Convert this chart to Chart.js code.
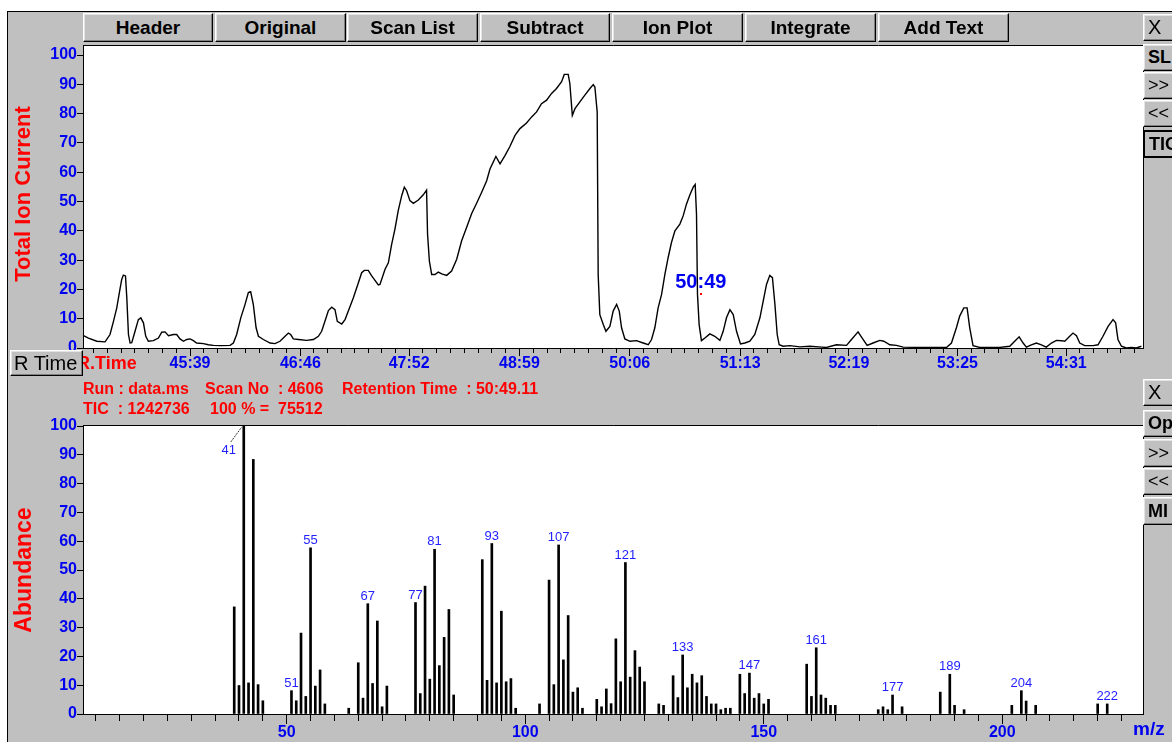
<!DOCTYPE html>
<html>
<head>
<meta charset="utf-8">
<script src="https://cdn.jsdelivr.net/npm/chart.js@4.4.0/dist/chart.umd.min.js"></script>
<style>
  html, body { margin: 0; padding: 0; width: 1172px; height: 742px; overflow: hidden; background: #fff;
    font-family: "Liberation Sans", Arial, sans-serif; }
  #frame { position: absolute; left: 7px; top: 11px; width: 1170px; height: 740px; background: #c0c0c0;
    border-left: 1px solid #000; border-top: 1px solid #000; }
  canvas { position: absolute; left: 0; z-index: 1; }
  .btn { position: absolute; box-sizing: border-box; background: #c0c0c0; border: 1px solid;
    border-color: #fff #000 #000 #fff; box-shadow: inset -1px -1px #808080, inset 1px 1px #e4e4e4;
    font-weight: bold; font-size: 19px; color: #000; text-align: center; white-space: nowrap; overflow: hidden; z-index: 3; }
  .side { width: 40px; text-align: left; padding-left: 4px; font-size: 18px; }
  .plain { font-weight: normal; }
  .sel { border: 2px solid #000; box-shadow: none; }
  .txt { position: absolute; white-space: pre; font-weight: bold; z-index: 2; }
  .red { color: #ff0000; }
  .blue { color: #0000f0; }
  .vert { text-align: center; transform: rotate(-90deg); }
</style>
</head>
<body>
<div id="frame"></div>

<canvas id="tic" width="1172" height="380" style="top:0"></canvas>
<canvas id="spec" width="1172" height="362" style="top:380px"></canvas>

<!-- toolbar -->
<div class="btn" style="left:83px;top:13px;width:130px;height:29px;line-height:27px">Header</div>
<div class="btn" style="left:215px;top:13px;width:131px;height:29px;line-height:27px">Original</div>
<div class="btn" style="left:347px;top:13px;width:131px;height:29px;line-height:27px">Scan List</div>
<div class="btn" style="left:480px;top:13px;width:130px;height:29px;line-height:27px">Subtract</div>
<div class="btn" style="left:612px;top:13px;width:131px;height:29px;line-height:27px">Ion Plot</div>
<div class="btn" style="left:745px;top:13px;width:131px;height:29px;line-height:27px">Integrate</div>
<div class="btn" style="left:878px;top:13px;width:131px;height:29px;line-height:27px">Add Text</div>

<!-- chromatogram side buttons -->
<div class="btn side plain" style="left:1143px;top:14px;height:27px;line-height:25px;font-size:20px">X</div>
<div class="btn side" style="left:1143px;top:44px;height:27px;line-height:25px">SL</div>
<div class="btn side plain" style="left:1143px;top:72px;height:27px;line-height:25px">&gt;&gt;</div>
<div class="btn side plain" style="left:1143px;top:100px;height:27px;line-height:25px">&lt;&lt;</div>
<div class="btn side sel" style="left:1143px;top:130px;height:28px;line-height:24px">TIC</div>

<!-- spectrum side buttons -->
<div class="btn side plain" style="left:1143px;top:379px;height:27px;line-height:25px;font-size:20px">X</div>
<div class="btn side" style="left:1143px;top:410px;height:27px;line-height:25px">Op</div>
<div class="btn side plain" style="left:1143px;top:439px;height:28px;line-height:26px">&gt;&gt;</div>
<div class="btn side plain" style="left:1143px;top:468px;height:27px;line-height:25px">&lt;&lt;</div>
<div class="btn side" style="left:1143px;top:497px;height:28px;line-height:26px">MI</div>

<!-- axis titles and run information -->
<div class="txt red vert" style="left:-77px;top:181px;width:200px;height:26px;line-height:26px;font-size:22px">Total Ion Current</div>
<div class="txt red vert" style="left:-77px;top:557px;width:200px;height:26px;line-height:26px;font-size:23px">Abundance</div>
<div class="txt red" style="left:77px;top:352px;height:22px;line-height:22px;font-size:18px">R.Time</div>
<div class="btn plain" style="left:10px;top:350px;width:73px;height:26px;line-height:24px;font-size:20px;text-align:left;padding-left:3px">R Time</div>

<div class="txt red" style="left:83px;top:379px;line-height:20px;font-size:16px">Run : data.ms</div>
<div class="txt red" style="left:205px;top:379px;line-height:20px;font-size:16px">Scan No  : 4606</div>
<div class="txt red" style="left:342px;top:379px;line-height:20px;font-size:16px" id="rtText"></div>
<div class="txt red" style="left:83px;top:399px;line-height:20px;font-size:16px">TIC  : 1242736</div>
<div class="txt red" style="left:210px;top:399px;line-height:20px;font-size:16px">100 % =  75512</div>
<div class="txt blue" style="left:1133px;top:717px;line-height:24px;font-size:19px">m/z</div>

<script>
// ---- total ion chromatogram: retention time (s) and relative intensity (%) ----
const TIC_TIME = [
  2674.3, 2677.3, 2682.4, 2687.4, 2690.4, 2692.5, 2694.5, 2695.9, 2697.5, 2698.5,
  2699.8, 2700.6, 2701.6, 2702.6, 2703.6, 2705.6, 2707.6, 2709.1, 2710.7, 2712.1,
  2713.7, 2716.7, 2719.8, 2721.8, 2723.8, 2725.9, 2728.9, 2730.9, 2732.9, 2735.0,
  2737.0, 2739.0, 2741.0, 2743.0, 2747.1, 2750.1, 2753.2, 2757.2, 2763.3, 2765.3,
  2767.3, 2769.8, 2772.4, 2774.4, 2775.8, 2777.4, 2779.1, 2780.5, 2783.5, 2787.6,
  2790.6, 2793.6, 2796.7, 2798.7, 2800.1, 2801.7, 2804.8, 2809.8, 2813.9, 2816.9,
  2818.9, 2820.9, 2823.0, 2825.0, 2827.0, 2828.4, 2831.1, 2833.1, 2835.1, 2838.1,
  2841.2, 2843.2, 2844.8, 2847.2, 2849.3, 2853.3, 2854.3, 2857.4, 2859.4, 2861.4,
  2863.4, 2865.4, 2867.5, 2869.1, 2870.5, 2872.5, 2874.6, 2877.6, 2880.6, 2882.6,
  2883.2, 2884.3, 2885.7, 2887.7, 2889.7, 2891.8, 2894.8, 2897.8, 2900.9, 2903.9,
  2906.9, 2910.0, 2913.0, 2916.0, 2919.1, 2921.1, 2924.7, 2927.2, 2930.2, 2933.2,
  2936.3, 2939.3, 2943.3, 2946.4, 2949.4, 2952.4, 2955.5, 2958.5, 2961.5, 2964.6,
  2966.2, 2968.6, 2969.6, 2971.1, 2972.7, 2975.7, 2978.7, 2981.8, 2983.8, 2984.8,
  2986.2, 2986.8, 2987.8, 2989.9, 2991.5, 2993.9, 2995.9, 2998.0, 2999.6, 3001.0,
  3003.0, 3006.1, 3010.1, 3014.1, 3017.2, 3019.2, 3021.2, 3023.2, 3025.3, 3027.3,
  3029.3, 3031.3, 3033.4, 3036.4, 3038.4, 3040.4, 3042.5, 3044.5, 3045.7, 3046.5,
  3047.1, 3048.1, 3049.5, 3051.6, 3054.6, 3057.6, 3060.7, 3062.7, 3064.7, 3066.8,
  3068.8, 3070.8, 3073.2, 3075.9, 3078.9, 3081.9, 3085.0, 3087.0, 3089.0, 3091.0,
  3092.6, 3094.1, 3095.5, 3096.7, 3099.1, 3103.2, 3109.2, 3115.3, 3122.4, 3125.4,
  3131.5, 3137.6, 3140.6, 3144.6, 3146.7, 3150.1, 3153.7, 3157.8, 3160.2, 3163.9,
  3167.9, 3172.0, 3182.1, 3198.3, 3201.3, 3204.3, 3206.3, 3208.8, 3210.8, 3212.4,
  3214.4, 3218.5, 3230.6, 3236.7, 3239.7, 3242.4, 3244.8, 3246.8, 3249.8, 3252.9,
  3255.9, 3258.9, 3262.0, 3265.0, 3268.0, 3270.1, 3273.1, 3275.1, 3277.2, 3279.2,
  3282.2, 3287.3, 3290.3, 3293.3, 3296.4, 3299.4, 3301.0, 3302.4, 3304.5, 3307.5,
  3310.5, 3313.6, 3316.6
];
const TIC_VALUE = [
  4.2, 3.4, 2.3, 2.1, 4.6, 9.1, 13.7, 18.3, 23.4, 24.9,
  24.6, 17.1, 4.6, 1.7, 1.8, 5.7, 9.7, 10.3, 8.6, 4.0,
  2.3, 2.5, 3.4, 5.4, 5.5, 4.2, 4.6, 4.6, 3.1, 2.3,
  2.9, 3.1, 2.5, 1.7, 1.5, 1.1, 0.9, 0.8, 0.9, 1.7,
  4.6, 10.3, 14.9, 18.9, 19.2, 14.9, 6.9, 4.0, 2.9, 1.7,
  1.5, 2.3, 4.0, 5.1, 4.6, 3.1, 2.9, 2.6, 2.9, 4.0,
  5.7, 9.1, 12.8, 13.9, 13.1, 9.1, 8.2, 9.7, 12.6, 17.1,
  22.3, 25.7, 26.5, 26.5, 24.6, 21.5, 21.7, 26.9, 29.1, 35.4,
  40.6, 46.9, 52.0, 54.9, 53.7, 50.3, 49.4, 50.5, 52.3, 53.9,
  38.9, 29.7, 25.1, 25.1, 25.9, 25.3, 24.8, 26.3, 30.3, 36.6,
  41.1, 45.9, 49.4, 53.1, 57.1, 61.1, 65.4, 62.9, 65.7, 68.8,
  72.6, 74.9, 76.8, 78.9, 80.6, 83.4, 84.6, 86.9, 88.6, 90.9,
  93.4, 93.4, 90.3, 79.4, 81.7, 84.0, 86.3, 88.6, 89.9, 89.1,
  80.6, 25.1, 11.4, 8.0, 5.7, 7.4, 12.6, 14.9, 12.6, 6.9,
  3.1, 2.3, 2.5, 1.7, 1.1, 2.9, 6.9, 13.7, 18.3, 25.1,
  30.9, 36.0, 40.0, 42.3, 45.1, 49.1, 52.3, 54.9, 55.8, 45.7,
  18.3, 8.0, 2.5, 3.4, 4.8, 4.0, 2.6, 5.7, 10.3, 13.1,
  11.4, 5.7, 1.4, 1.7, 2.3, 4.6, 10.3, 16.0, 21.7, 24.8,
  24.0, 15.0, 4.6, 1.1, 0.6, 0.8, 0.4, 0.6, 0.3, 0.2,
  1.1, 0.9, 2.9, 5.5, 3.7, 0.9, 1.7, 2.6, 2.3, 1.1,
  0.9, 0.3, 0.2, 0.2, 1.7, 6.9, 10.9, 13.7, 13.7, 6.9,
  0.8, 0.2, 0.2, 0.6, 2.3, 3.8, 1.7, 0.3, 1.1, 1.7,
  1.1, 0.3, 1.7, 2.6, 2.5, 2.3, 4.0, 5.1, 4.2, 1.7,
  0.8, 0.8, 1.1, 4.0, 7.4, 9.7, 8.6, 2.9, 0.6, 0.0,
  0.2, 0.0, 0.6
];
const RT_LABELS = ['45:39', '46:46', '47:52', '48:59', '50:06', '51:13', '52:19', '53:25', '54:31'];
const RT_RANGE = [2674.0, 3317.6];
const TIC_Y_TICKS = [0, 10, 20, 30, 40, 50, 60, 70, 80, 90, 100];

// selected scan
const CURSOR_RT = '50:49.11';
const CURSOR_VALUE = 18.3;

// ---- mass spectrum of the selected scan: m/z and relative abundance (%) ----
const MZ = [
  39, 40, 41, 42, 43, 44, 45, 51, 52, 53, 54, 55, 56, 57, 58, 63, 65, 66, 67, 68,
  69, 70, 71, 77, 78, 79, 80, 81, 82, 83, 84, 85, 91, 92, 93, 94, 95, 96, 97, 98,
  103, 105, 106, 107, 108, 109, 110, 111, 112, 115, 116, 117, 118, 119, 120, 121, 122, 123, 124, 125,
  128, 129, 131, 132, 133, 134, 135, 136, 137, 138, 139, 140, 141, 142, 143, 145, 146, 147, 148, 149,
  150, 151, 159, 160, 161, 162, 163, 164, 165, 174, 175, 176, 177, 179, 187, 189, 190, 192, 202, 204,
  205, 207, 220, 222
];
const ABUNDANCE = [
  37.2, 9.9, 100, 10.8, 88.4, 10.2, 4.6, 8.1, 4.6, 28.1, 6.1, 57.7, 9.7, 15.3, 3.5, 2.0, 17.8, 5.5, 38.3, 10.6,
  32.3, 2.5, 9.7, 38.7, 7.1, 44.4, 12.1, 57.2, 16.8, 26.6, 36.3, 6.6, 53.6, 11.7, 59.2, 10.8, 35.7, 11.2, 12.3, 2.0,
  3.5, 46.5, 10.2, 58.7, 18.8, 34.2, 7.6, 9.1, 2.0, 5.1, 2.5, 8.7, 3.6, 26.1, 11.2, 52.6, 12.8, 22.0, 16.3, 11.2,
  3.5, 3.0, 13.3, 5.7, 20.5, 9.1, 13.8, 10.8, 13.3, 6.1, 3.5, 3.5, 1.5, 2.0, 2.0, 13.8, 7.1, 14.2, 5.5, 7.1,
  3.5, 5.1, 17.3, 6.1, 23.0, 6.6, 5.5, 3.0, 3.0, 1.5, 2.5, 1.5, 6.6, 2.5, 7.6, 13.8, 3.0, 1.5, 3.0, 8.1,
  4.5, 3.0, 3.5, 3.5
];
const LABELED_MZ = [41, 51, 55, 67, 77, 81, 93, 107, 121, 133, 147, 161, 177, 189, 204, 222];
const MZ_RANGE = [7.3, 229.5];
const MZ_TICK_STEP = 5;
const MZ_LABEL_TICKS = [50, 100, 150, 200];
const ABUND_Y_TICKS = [0, 10, 20, 30, 40, 50, 60, 70, 80, 90, 100];

// ---------------------------------------------------------------------------
const FONT = '"Liberation Sans", Arial, sans-serif';
const BLUE = '#0000f0';
Chart.defaults.font.family = FONT;

document.getElementById('rtText').textContent = 'Retention Time  : ' + CURSOR_RT;

function toSeconds(s) {
  const [m, sec] = s.split(':').map(Number);
  return m * 60 + sec;
}
const cursorSeconds = toSeconds(CURSOR_RT);

// retention-time axis: labelled ticks with eight subdivisions between them
function buildRtTicks(min, max) {
  const major = RT_LABELS.map(l => ({ value: toSeconds(l), lbl: l }));
  const ticks = [];
  const step0 = (major[1].value - major[0].value) / 8;
  for (let v = major[0].value - step0; v >= min; v -= step0) ticks.unshift({ value: v });
  major.forEach((m, i) => {
    ticks.push(m);
    if (i < major.length - 1) {
      const st = (major[i + 1].value - m.value) / 8;
      for (let k = 1; k < 8; k++) ticks.push({ value: m.value + k * st });
    }
  });
  const stepN = (major[major.length - 1].value - major[major.length - 2].value) / 8;
  for (let v = major[major.length - 1].value + stepN; v <= max; v += stepN) ticks.push({ value: v });
  return ticks;
}

// white plot area with a black top and right edge
const plotFrame = {
  id: 'plotFrame',
  beforeDraw(chart) {
    const { ctx, chartArea: a } = chart;
    ctx.save();
    ctx.fillStyle = '#fff';
    ctx.fillRect(a.left, a.top, a.right - a.left, a.bottom - a.top);
    ctx.restore();
  },
  afterDraw(chart) {
    const { ctx, chartArea: a } = chart;
    ctx.save();
    ctx.strokeStyle = '#000';
    ctx.lineWidth = 1;
    ctx.beginPath();
    ctx.moveTo(a.left, a.top - 0.5);
    ctx.lineTo(a.right + 0.5, a.top - 0.5);
    ctx.lineTo(a.right + 0.5, a.bottom);
    ctx.stroke();
    ctx.restore();
  }
};

// retention time of the selected scan on the chromatogram
const cursorMark = {
  id: 'cursorMark',
  beforeDatasetsDraw(chart) {
    const { ctx, scales } = chart;
    const px = scales.x.getPixelForValue(cursorSeconds);
    const py = scales.y.getPixelForValue(CURSOR_VALUE);
    ctx.save();
    ctx.font = 'bold 20px ' + FONT;
    ctx.fillStyle = BLUE;
    ctx.textAlign = 'center';
    ctx.textBaseline = 'alphabetic';
    ctx.fillText(CURSOR_RT.slice(0, 5), px, py - 6);
    ctx.restore();
  },
  afterDatasetsDraw(chart) {
    const { ctx, scales } = chart;
    const px = scales.x.getPixelForValue(cursorSeconds);
    const py = scales.y.getPixelForValue(CURSOR_VALUE);
    ctx.save();
    ctx.fillStyle = '#ff0000';
    ctx.fillRect(Math.round(px) - 1, Math.round(py) - 1, 2, 2);
    ctx.restore();
  }
};

new Chart(document.getElementById('tic'), {
  type: 'line',
  data: {
    datasets: [{
      data: TIC_TIME.map((t, i) => ({ x: t, y: TIC_VALUE[i] })),
      borderColor: '#000',
      borderWidth: 1.4,
      pointRadius: 0,
      tension: 0,
      fill: false
    }]
  },
  options: {
    responsive: false,
    animation: false,
    devicePixelRatio: 1,
    layout: { padding: { top: 46, right: 29, left: 0, bottom: 0 } },
    plugins: { legend: { display: false }, tooltip: { enabled: false } },
    scales: {
      x: {
        type: 'linear',
        min: RT_RANGE[0],
        max: RT_RANGE[1],
        afterFit(s) { s.height = 32; },
        afterBuildTicks(s) { s.ticks = buildRtTicks(RT_RANGE[0], RT_RANGE[1]); },
        ticks: {
          autoSkip: false, maxRotation: 0, minRotation: 0, padding: -2,
          color: BLUE, font: { weight: 'bold', size: 16 },
          callback: (v, i, ticks) => ticks[i].lbl || ''
        },
        grid: {
          drawOnChartArea: false, tickLength: 8, color: '#000',
          tickBorderDash: c => (c.tick && c.tick.lbl) ? [] : [4, 20]
        },
        border: { color: '#000' }
      },
      y: {
        min: 0,
        max: 103.1,
        afterFit(s) { s.width = 83; },
        afterBuildTicks(s) { s.ticks = TIC_Y_TICKS.map(v => ({ value: v })); },
        ticks: { padding: 0, color: BLUE, font: { weight: 'bold', size: 16 } },
        grid: { drawOnChartArea: false, tickLength: 6, color: '#000' },
        border: { color: '#000' }
      }
    }
  },
  plugins: [plotFrame, cursorMark]
});

// m/z labels above the main fragment lines
const peakLabels = {
  id: 'peakLabels',
  afterDatasetsDraw(chart) {
    const ctx = chart.ctx;
    const meta = chart.getDatasetMeta(0);
    ctx.save();
    ctx.font = '13px ' + FONT;
    ctx.fillStyle = '#1f1fff';
    ctx.textAlign = 'center';
    MZ.forEach((m, i) => {
      if (!LABELED_MZ.includes(m)) return;
      const bar = meta.data[i];
      if (ABUNDANCE[i] >= 100) {
        // base peak: label set below and to the left, with a leader line
        ctx.textBaseline = 'middle';
        ctx.fillText(String(m), bar.x - 15, bar.y + 24);
        ctx.strokeStyle = '#333';
        ctx.lineWidth = 1;
        ctx.setLineDash([2, 1]);
        ctx.beginPath();
        ctx.moveTo(bar.x - 13, bar.y + 16);
        ctx.lineTo(bar.x - 2, bar.y + 1);
        ctx.stroke();
        ctx.setLineDash([]);
      } else {
        ctx.textBaseline = 'alphabetic';
        ctx.fillText(String(m), bar.x, bar.y - 4);
      }
    });
    ctx.restore();
  }
};

new Chart(document.getElementById('spec'), {
  type: 'bar',
  data: {
    datasets: [{
      data: MZ.map((m, i) => ({ x: m, y: ABUNDANCE[i] })),
      backgroundColor: '#000',
      borderWidth: 0,
      barThickness: 2,
      grouped: false
    }]
  },
  options: {
    responsive: false,
    animation: false,
    devicePixelRatio: 1,
    layout: { padding: { top: 46, right: 29, left: 0, bottom: 0 } },
    plugins: { legend: { display: false }, tooltip: { enabled: false } },
    scales: {
      x: {
        type: 'linear',
        min: MZ_RANGE[0],
        max: MZ_RANGE[1],
        offset: false,
        afterFit(s) { s.height = 28; },
        afterBuildTicks(s) {
          const t = [];
          for (let v = Math.ceil(MZ_RANGE[0] / MZ_TICK_STEP) * MZ_TICK_STEP; v <= MZ_RANGE[1]; v += MZ_TICK_STEP) t.push({ value: v });
          s.ticks = t;
        },
        ticks: {
          autoSkip: false, maxRotation: 0, minRotation: 0, padding: -1,
          color: BLUE, font: { weight: 'bold', size: 16 },
          callback: v => MZ_LABEL_TICKS.includes(v) ? String(v) : ''
        },
        grid: {
          offset: false, drawOnChartArea: false, tickLength: 10, color: '#000',
          tickBorderDash: c => (c.tick && MZ_LABEL_TICKS.includes(c.tick.value)) ? [] : [6, 20]
        },
        border: { color: '#000' }
      },
      y: {
        min: 0,
        max: 100,
        afterFit(s) { s.width = 83; },
        afterBuildTicks(s) { s.ticks = ABUND_Y_TICKS.map(v => ({ value: v })); },
        ticks: { padding: 0, color: BLUE, font: { weight: 'bold', size: 16 } },
        grid: { drawOnChartArea: false, tickLength: 6, color: '#000' },
        border: { color: '#000' }
      }
    }
  },
  plugins: [plotFrame, peakLabels]
});
</script>
</body>
</html>
